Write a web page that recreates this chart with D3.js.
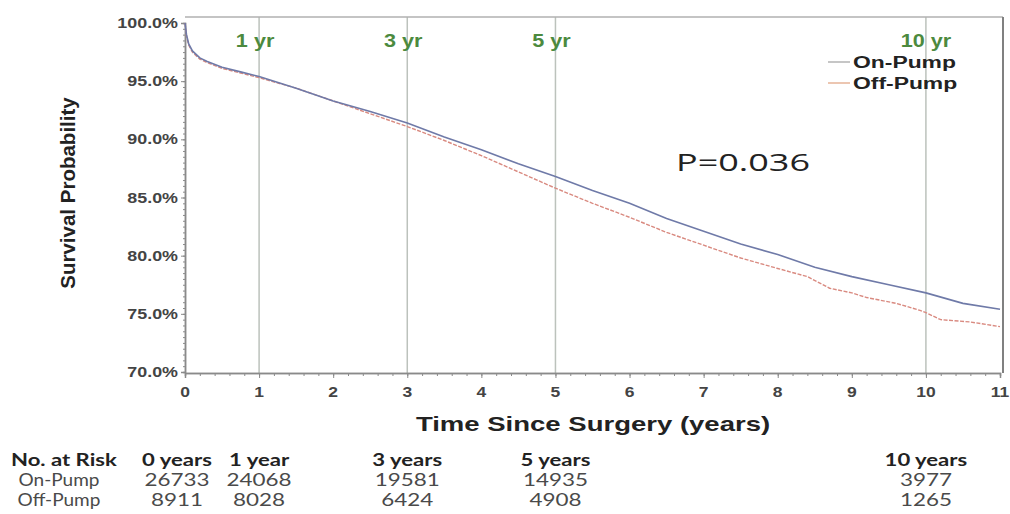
<!DOCTYPE html>
<html>
<head>
<meta charset="utf-8">
<script src="https://cdn.jsdelivr.net/npm/d3@7"></script>
<style>
  body { margin: 0; background: #fff; }
</style>
</head>
<body>
<div id="chart"></div>
<script>
// survival curves (years, %)
const timeOn = [0, 0.02, 0.05, 0.1, 0.2, 0.3, 0.5, 0.75, 1, 1.5, 2, 2.5, 3, 3.5, 4, 4.5, 5, 5.5, 6, 6.5, 7, 7.5, 8, 8.5, 9, 9.5, 10, 10.5, 11];
const survOn = [100, 99.0, 98.2, 97.6, 97.0, 96.7, 96.2, 95.8, 95.4, 94.4, 93.3, 92.4, 91.4, 90.2, 89.1, 87.9, 86.8, 85.6, 84.5, 83.2, 82.1, 81.0, 80.1, 79.0, 78.2, 77.5, 76.8, 75.9, 75.4];
const timeOff = [0, 0.02, 0.05, 0.1, 0.2, 0.3, 0.5, 0.75, 1, 1.5, 2, 2.5, 3, 3.5, 4, 4.5, 5, 5.5, 6, 6.5, 7, 7.5, 8, 8.4, 8.7, 9, 9.2, 9.6, 9.92, 10, 10.2, 10.6, 11];
const survOff = [100, 98.9, 98.1, 97.5, 96.9, 96.6, 96.1, 95.7, 95.3, 94.4, 93.3, 92.2, 91.1, 89.9, 88.6, 87.2, 85.8, 84.5, 83.3, 82.0, 80.9, 79.8, 78.9, 78.2, 77.2, 76.8, 76.4, 75.9, 75.3, 75.1, 74.5, 74.3, 73.9];

const yTicks = [70, 75, 80, 85, 90, 95, 100];
const xTicks = d3.range(0, 12);
const refYears = [1, 3, 5, 10];
const refLabels = ["1 yr", "3 yr", "5 yr", "10 yr"];
const seriesNames = ["On-Pump", "Off-Pump"];

// number at risk table
const riskYears = [0, 1, 3, 5, 10];
const riskHeads = ["0 years", "1 year", "3 years", "5 years", "10 years"];
const riskOn = [26733, 24068, 19581, 14935, 3977];
const riskOff = [8911, 8028, 6424, 4908, 1265];
const pText = "P=0.036";

const W = 1010, H = 514;
const plotLeft = 185, plotRight = 1000, plotTop = 23, plotBottom = 372;
const frameTop = 17, frameRight = 1003, axisY = 373;
const SANS = "'Liberation Sans', Arial, sans-serif";
const CAL = "Lato, 'Open Sans', sans-serif";

const svg = d3.select("#chart").append("svg")
  .attr("width", W).attr("height", H);

const x = d3.scaleLinear().domain([0, 11]).range([plotLeft, plotRight]);
const y = d3.scaleLinear().domain([70, 100]).range([plotBottom, plotTop]);

// text drawn with a horizontal stretch, the original image is widened
function stext(parent, px, py, s, o) {
  return parent.append("text")
    .attr("transform", `translate(${px},${py}) scale(${o.sx || 1},1)`)
    .attr("text-anchor", o.anchor || "start")
    .style("font-family", o.family || SANS)
    .style("font-size", o.size + "px")
    .style("font-weight", o.weight || "bold")
    .attr("fill", o.fill || "#333")
    .text(s);
}

// reference lines
svg.selectAll("line.ref").data(refYears).enter().append("line")
  .attr("class", "ref")
  .attr("x1", d => x(d)).attr("x2", d => x(d))
  .attr("y1", frameTop).attr("y2", axisY)
  .attr("stroke", "#bcc2bc").attr("stroke-width", 1.5);

// frame
svg.append("line").attr("x1", plotLeft).attr("x2", frameRight)
  .attr("y1", frameTop).attr("y2", frameTop)
  .attr("stroke", "#b0b0b0").attr("stroke-width", 1.5);
svg.append("line").attr("x1", frameRight).attr("x2", frameRight)
  .attr("y1", frameTop).attr("y2", axisY)
  .attr("stroke", "#808080").attr("stroke-width", 2);

// x axis
const xAxis = svg.append("g").attr("transform", `translate(0,${axisY})`);
xAxis.append("g").call(d3.axisBottom(x).tickValues(d3.range(0, 11.01, 0.2)).tickSize(3).tickFormat(""));
xAxis.append("g").call(d3.axisBottom(x).tickValues(xTicks).tickSize(5).tickFormat(""));
xAxis.selectAll("path.domain").attr("stroke", "#8a8a8a").attr("stroke-width", 1.5);
xAxis.selectAll("line").attr("stroke", "#8a8a8a");
xTicks.forEach(t => {
  stext(svg, x(t), 397, String(t), { size: 14, sx: 1.25, anchor: "middle", fill: "#444" });
});

// y axis
const yAxis = svg.append("g").attr("transform", `translate(${plotLeft},0)`);
yAxis.append("g").call(d3.axisLeft(y).tickValues(d3.range(70, 100.01, 0.5)).tickSize(2).tickFormat(""));
yAxis.append("g").call(d3.axisLeft(y).tickValues(yTicks).tickSize(4).tickFormat(""));
yAxis.selectAll("path.domain").attr("stroke", "#8a8a8a").attr("stroke-width", 1.5);
yAxis.selectAll("line").attr("stroke", "#8a8a8a");
yTicks.forEach(v => {
  stext(svg, 178, y(v) + 5, v.toFixed(1) + "%", { size: 14, sx: 1.28, anchor: "end", fill: "#444" });
});

// axis titles
svg.append("text")
  .attr("transform", `translate(75,193) rotate(-90)`)
  .attr("text-anchor", "middle")
  .style("font-family", SANS).style("font-size", "20.5px").style("font-weight", "bold")
  .attr("fill", "#222")
  .text("Survival Probability");
stext(svg, 593, 431, "Time Since Surgery (years)", { size: 21, sx: 1.31, anchor: "middle", fill: "#222" });

// reference labels
refYears.forEach((t, i) => {
  stext(svg, x(t) - (t < 10 ? 4 : 0), 47, refLabels[i], { size: 18, sx: 1.2, anchor: "middle", fill: "#4c8a3e" });
});

// curves
const line = d3.line().x(d => x(d[0])).y(d => y(d[1]));
svg.append("path")
  .datum(d3.zip(timeOff, survOff))
  .attr("d", line)
  .attr("fill", "none")
  .attr("stroke", "#d98a80").attr("stroke-width", 1.4)
  .attr("stroke-dasharray", "4,1.5");
svg.append("path")
  .datum(d3.zip(timeOn, survOn))
  .attr("d", line)
  .attr("fill", "none")
  .attr("stroke", "#6f7aa8").attr("stroke-width", 1.6);

// legend
const legColors = ["#a0a0a0", "#e0a07c"];
seriesNames.forEach((n, i) => {
  const ly = 62 + i * 21;
  svg.append("line").attr("x1", 828).attr("x2", 850).attr("y1", ly).attr("y2", ly)
    .attr("stroke", legColors[i]).attr("stroke-width", 1.2);
  stext(svg, 853, ly + 6, n, { size: 16, sx: 1.43, fill: "#222" });
});

// p value
stext(svg, 676, 171, pText, { size: 24, sx: 1.5, weight: "normal", family: "'Open Sans', sans-serif", fill: "#222" });

// number at risk
const colX = t => x(t) - (t === 0 ? 8 : 0);
stext(svg, 11, 466, "No. at Risk", { size: 17, sx: 1.3, family: CAL, fill: "#222" });
stext(svg, 59, 486, seriesNames[0], { size: 17, sx: 1.12, weight: "normal", family: CAL, anchor: "middle", fill: "#4a4a4a" });
stext(svg, 59, 506, seriesNames[1], { size: 17, sx: 1.12, weight: "normal", family: CAL, anchor: "middle", fill: "#4a4a4a" });
riskYears.forEach((t, i) => {
  stext(svg, colX(t), 466, riskHeads[i], { size: 17, sx: 1.3, family: CAL, anchor: "middle", fill: "#222" });
  stext(svg, colX(t), 486, String(riskOn[i]), { size: 17, sx: 1.32, weight: "normal", family: CAL, anchor: "middle", fill: "#4a4a4a" });
  stext(svg, colX(t), 506, String(riskOff[i]), { size: 17, sx: 1.32, weight: "normal", family: CAL, anchor: "middle", fill: "#4a4a4a" });
});
</script>
</body>
</html>
